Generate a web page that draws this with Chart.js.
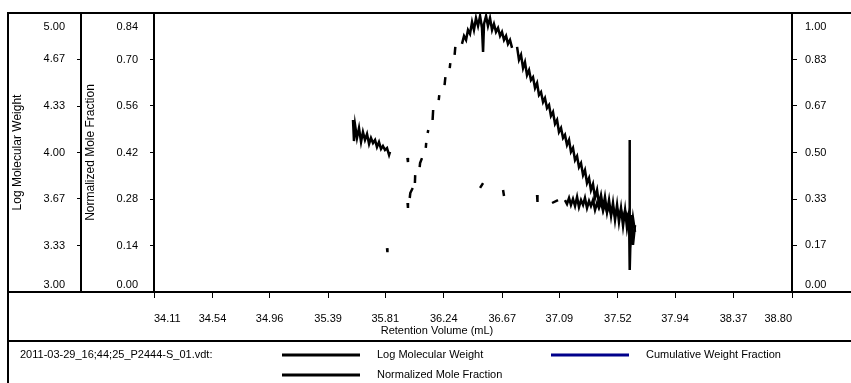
<!DOCTYPE html>
<html lang="en">
<head>
  <meta charset="UTF-8" />
  <title>Retention Volume</title>
  <script src="https://cdn.jsdelivr.net/npm/chart.js"></script>
  <style>
    body { margin: 0; background: #fff; }
  </style>
</head>
<body>
<canvas id="grafico" width="851" height="383"></canvas>
<script>
  // ejes
  const volTicks = [34.11, 34.54, 34.96, 35.39, 35.81, 36.24, 36.67, 37.09, 37.52, 37.94, 38.37, 38.80];
  const logTicks = [3, 3.333, 3.667, 4, 4.333, 4.667, 5];
  const moleTicks = [0, 0.14, 0.28, 0.42, 0.56, 0.70, 0.84];
  const cumTicks = [0, 0.167, 0.333, 0.5, 0.667, 0.833, 1];

  const archivo = '2011-03-29_16;44;25_P2444-S_01.vdt:';

  // Log Molecular Weight (null = hueco)
  const lmwVol = [35.573, 35.580, 35.588, 35.602, 35.617, 35.632, 35.646, 35.661, 35.676, 35.691,
    35.705, 35.720, 35.735, 35.749, 35.764, 35.779, 35.793, 35.808, 35.823, 35.838, 35.845, 35.900,
    35.973, 35.977, 36.200, 36.507, 36.529, 36.600, 36.676, 36.683, 36.800, 36.926, 36.929, 37.000,
    37.036, 37.080, 37.110,
    37.131, 37.146, 37.161, 37.175, 37.190, 37.205, 37.220, 37.234, 37.249, 37.264, 37.278, 37.293,
    37.308, 37.322, 37.337, 37.352, 37.367, 37.381, 37.396, 37.411, 37.425, 37.440, 37.455, 37.470,
    37.484, 37.499, 37.514, 37.528, 37.543, 37.558, 37.573, 37.587, 37.602, 37.605, 37.609, 37.617,
    37.631, 37.646];
  const lmwLog = [4.233, 4.082, 4.197, 4.104, 4.176, 4.075, 4.147, 4.090, 4.133, 4.061,
    4.104, 4.068, 4.090, 4.039, 4.075, 4.025, 4.047, 4.018, 4.032, 3.982, 4.004, null,
    3.961, 3.932, null, 3.746, 3.781, null, 3.731, 3.688, null, 3.695, 3.645, null,
    3.638, 3.659, null,
    3.659, 3.631, 3.674, 3.624, 3.667, 3.616, 3.681, 3.609, 3.659, 3.624, 3.674, 3.602,
    3.652, 3.616, 3.659, 3.588, 3.638, 3.602, 3.645, 3.581, 3.631, 3.573, 3.616, 3.559,
    3.609, 3.545, 3.595, 3.552, 3.588, 3.530, 3.581, 3.538, 3.573, 4.090, 3.158, 3.552,
    3.337, 3.480];

  // Normalized Mole Fraction
  const mfVol = [35.823, 35.826, 35.860, 35.974, 35.977, 35.985, 35.990, 35.994, 36.012, 36.020,
    36.028, 36.030, 36.045, 36.063, 36.066, 36.080, 36.095, 36.108, 36.111, 36.117,
    36.122, 36.126, 36.140, 36.158, 36.162, 36.180, 36.203, 36.207, 36.225, 36.246,
    36.252, 36.268, 36.284, 36.288, 36.300, 36.320, 36.325, 36.350,
    36.374, 36.389, 36.404, 36.418, 36.433, 36.448, 36.462, 36.477, 36.492, 36.507,
    36.521, 36.529, 36.536, 36.551, 36.565, 36.580, 36.595, 36.609, 36.624, 36.639,
    36.654, 36.668, 36.683, 36.698, 36.712, 36.727, 36.742, 36.760,
    36.779, 36.793, 36.808, 36.823, 36.837, 36.852, 36.867, 36.881, 36.896, 36.911,
    36.926, 36.940, 36.955, 36.970, 36.984, 36.999, 37.014, 37.028, 37.043, 37.058,
    37.073, 37.087, 37.102, 37.117, 37.131, 37.146, 37.161, 37.175, 37.190, 37.205,
    37.220, 37.234, 37.249, 37.264, 37.278, 37.293, 37.308, 37.322, 37.337, 37.352,
    37.367, 37.381, 37.396, 37.411, 37.425, 37.440, 37.455, 37.470, 37.484, 37.499,
    37.514, 37.528, 37.543, 37.558, 37.573, 37.587, 37.602, 37.617, 37.631, 37.646];
  const mfFrac = [0.132, 0.120, null, 0.268, 0.253, null, 0.283, 0.298, 0.313, null,
    0.328, 0.352, null, 0.376, 0.388, 0.403, null, 0.434, 0.449, null,
    0.479, 0.488, null, 0.518, 0.548, null, 0.578, 0.593, null, 0.623,
    0.647, null, 0.674, 0.689, null, 0.714, 0.738, null,
    0.747, 0.771, 0.759, 0.789, 0.777, 0.813, 0.789, 0.825, 0.801, 0.831,
    0.795, 0.723, 0.807, 0.831, 0.801, 0.825, 0.789, 0.807, 0.783, 0.795,
    0.771, 0.783, 0.759, 0.771, 0.747, 0.759, 0.735, null,
    0.738, 0.699, 0.714, 0.674, 0.692, 0.653, 0.668, 0.638, 0.647, 0.614,
    0.629, 0.593, 0.602, 0.572, 0.584, 0.554, 0.563, 0.530, 0.542, 0.506,
    0.518, 0.482, 0.494, 0.464, 0.473, 0.443, 0.458, 0.422, 0.434, 0.397,
    0.409, 0.376, 0.388, 0.352, 0.367, 0.328, 0.343, 0.307, 0.325, 0.283,
    0.307, 0.265, 0.292, 0.253, 0.286, 0.241, 0.277, 0.229, 0.268, 0.217,
    0.262, 0.211, 0.253, 0.199, 0.247, 0.193, 0.232, 0.169, 0.223, 0.181];

  // Cumulative Weight Fraction: sin datos visibles
  const cumVol = [];
  const cumFrac = [];

  const fuente = { family: "'Liberation Sans', Arial, sans-serif", size: 11 };
  const fuenteTitulo = { family: "'Liberation Sans', Arial, sans-serif", size: 12 };
  const puntos = (xs, ys) => xs.map((v, i) => ({ x: v, y: ys[i] }));

  // marco, etiquetas de ejes y leyenda
  const marco = {
    id: 'marco',
    afterDraw(chart) {
      const ctx = chart.ctx;
      const a = chart.chartArea;
      const sx = chart.scales.x, sy = chart.scales.y, sy1 = chart.scales.y1, sy2 = chart.scales.y2;
      const izq = sy.left;
      const fin = chart.width;
      const sep = sx.bottom;

      ctx.save();
      ctx.strokeStyle = '#000';
      ctx.lineWidth = 2;
      ctx.beginPath();
      ctx.moveTo(izq, chart.height); ctx.lineTo(izq, a.top); ctx.lineTo(fin, a.top);
      ctx.moveTo(izq, a.bottom); ctx.lineTo(fin, a.bottom);
      ctx.moveTo(izq, sep); ctx.lineTo(fin, sep);
      ctx.stroke();

      ctx.fillStyle = '#000';
      ctx.font = "11px 'Liberation Sans', Arial, sans-serif";
      ctx.textBaseline = 'middle';

      const etiquetas = (scale, vals, align, x) => {
        ctx.textAlign = align;
        vals.forEach((v, i) => {
          let py = scale.getPixelForValue(v);
          if (i === 0) py -= 7;
          if (i === vals.length - 1) py += 14;
          ctx.fillText(v.toFixed(2), x, py);
        });
      };
      etiquetas(sy, logTicks, 'right', sy.right - 16);
      etiquetas(sy1, moleTicks, 'right', sy1.right - 16);
      etiquetas(sy2, cumTicks, 'left', sy2.left + 13);

      // título eje x
      ctx.textAlign = 'center';
      ctx.fillText('Retention Volume (mL)', izq + 429, sep - 10);

      // leyenda
      const ds = chart.data.datasets;
      const fila1 = sep + 14, fila2 = sep + 34;
      ctx.textAlign = 'left';
      ctx.fillText(archivo, izq + 12, fila1);
      const muestra = (d, x, y) => {
        ctx.strokeStyle = d.borderColor;
        ctx.lineWidth = 3;
        ctx.beginPath();
        ctx.moveTo(x, y); ctx.lineTo(x + 78, y);
        ctx.stroke();
        ctx.fillText(d.label, x + 95, y);
      };
      muestra(ds[0], izq + 274, fila1);
      muestra(ds[2], izq + 543, fila1);
      muestra(ds[1], izq + 274, fila2);
      ctx.restore();
    }
  };

  const ctx = document.getElementById('grafico').getContext('2d');
  const grafico = new Chart(ctx, {
    type: 'line',
    data: {
      datasets: [
        { label: 'Log Molecular Weight', data: puntos(lmwVol, lmwLog), yAxisID: 'y',
          borderColor: '#000', borderWidth: 2.5, pointRadius: 0, spanGaps: false },
        { label: 'Normalized Mole Fraction', data: puntos(mfVol, mfFrac), yAxisID: 'y1',
          borderColor: '#000', borderWidth: 2.5, pointRadius: 0, spanGaps: false },
        { label: 'Cumulative Weight Fraction', data: puntos(cumVol, cumFrac), yAxisID: 'y2',
          borderColor: '#00008b', borderWidth: 2, pointRadius: 0 }
      ]
    },
    options: {
      responsive: false,
      animation: false,
      layout: { padding: { left: 8, top: 13, right: 0, bottom: 42 } },
      plugins: { legend: { display: false }, tooltip: { enabled: false } },
      scales: {
        x: {
          type: 'linear', min: 34.11, max: 38.80,
          afterBuildTicks: s => { s.ticks = volTicks.map(v => ({ value: v })); },
          afterFit: s => { s.height = 49; },
          grid: { drawOnChartArea: false, tickLength: 6, color: '#000' },
          border: { color: '#000', width: 2 },
          ticks: { align: 'inner', autoSkip: false, maxRotation: 0, padding: 14, color: '#000',
                   font: fuente, callback: v => v.toFixed(2) }
        },
        y: {
          position: 'left', weight: 1, min: 3, max: 5,
          afterBuildTicks: s => { s.ticks = logTicks.map(v => ({ value: v })); },
          afterFit: s => { s.width = 73; },
          grid: { drawOnChartArea: false, tickLength: 4, color: '#000' },
          border: { color: '#000', width: 2 },
          ticks: { display: false },
          title: { display: true, text: 'Log Molecular Weight', color: '#000', font: fuenteTitulo,
                   padding: { top: 2, bottom: 0 } }
        },
        y1: {
          position: 'left', weight: 0, min: 0, max: 0.84,
          afterBuildTicks: s => { s.ticks = moleTicks.map(v => ({ value: v })); },
          afterFit: s => { s.width = 73; },
          grid: { drawOnChartArea: false, tickLength: 4, color: '#000' },
          border: { color: '#000', width: 2 },
          ticks: { display: false },
          title: { display: true, text: 'Normalized Mole Fraction', color: '#000', font: fuenteTitulo,
                   padding: { top: 2, bottom: 0 } }
        },
        y2: {
          position: 'right', min: 0, max: 1,
          afterBuildTicks: s => { s.ticks = cumTicks.map(v => ({ value: v })); },
          afterFit: s => { s.width = 59; },
          grid: { drawOnChartArea: false, tickLength: 5, color: '#000' },
          border: { color: '#000', width: 2 },
          ticks: { display: false }
        }
      }
    },
    plugins: [marco]
  });
</script>
</body>
</html>
